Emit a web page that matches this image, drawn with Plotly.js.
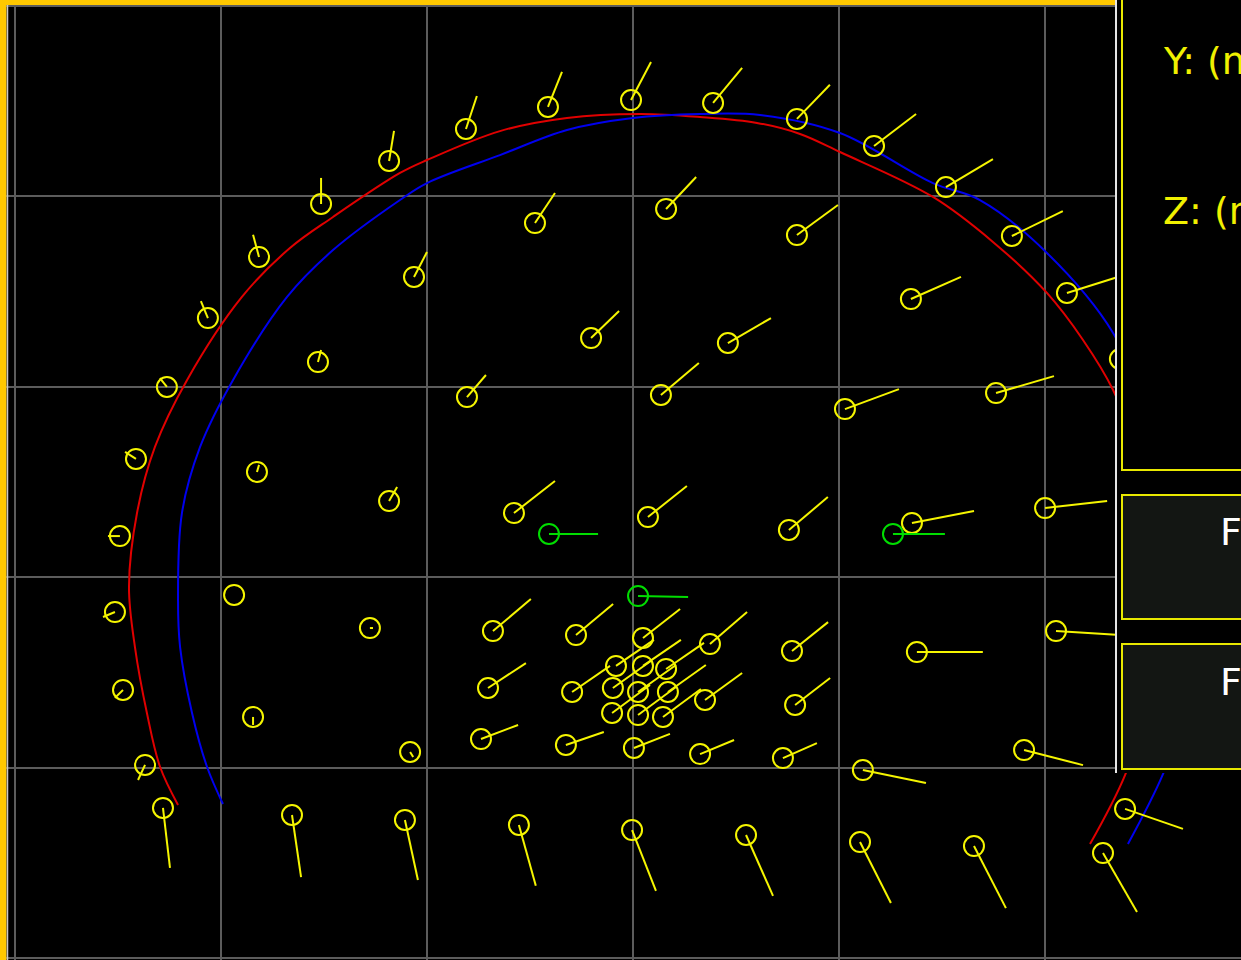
<!DOCTYPE html>
<html>
<head>
<meta charset="utf-8">
<script src="https://cdn.plot.ly/plotly-3.0.1.min.js"></script>
<style>html,body{margin:0;padding:0;background:#000;overflow:hidden}#chart{width:1241px;height:960px}</style>
</head>
<body>
<div id="chart"></div>
<script>
// Observation points (grid units) and their vectors (grid units)
const obsX = [0.719,0.632,0.525,0.486,0.510,0.588,0.738,0.937,1.185,1.486,1.816,2.189,2.587,2.990,3.388,3.795,4.169,4.518,4.838,5.105,5.362,5.387,5.280,
  1.345,1.893,2.446,2.995,3.548,4.101,4.654,
  2.524,3.160,3.795,4.348,1.937,2.796,3.460,4.028,4.761,1.471,2.194,3.135,1.175,1.816,2.422,3.072,3.756,4.353,4.999,
  1.064,1.723,2.320,2.723,3.048,3.373,3.771,4.377,5.052,1.156,1.918,2.296,2.704,3.349,3.786,2.262,2.674,3.004,3.325,3.727,4.115,4.897,
  2.917,3.048,3.160,2.902,3.024,3.169,2.898,3.024,3.145];
const obsY = [0.788,1.014,1.408,1.817,2.216,2.621,2.999,3.361,3.682,3.960,4.186,4.354,4.470,4.506,4.491,4.407,4.265,4.049,3.792,3.493,3.146,0.783,0.551,
  0.751,0.725,0.699,0.672,0.646,0.609,0.588,
  3.860,3.934,3.797,3.461,3.577,3.256,3.230,2.883,2.967,3.130,2.946,2.957,2.553,2.400,2.337,2.316,2.248,2.285,2.363,
  1.907,1.733,1.717,1.696,1.681,1.649,1.612,1.607,1.717,1.266,1.082,1.418,1.397,1.355,1.329,1.150,1.119,1.103,1.071,1.050,0.987,1.092,
  1.534,1.534,1.518,1.418,1.397,1.397,1.287,1.276,1.266];
const obsU = [0.034,-0.034,-0.039,-0.058,-0.058,-0.053,-0.034,-0.034,-0.029,0,0.024,0.053,0.068,0.097,0.141,0.160,0.204,0.228,0.247,0.247,0.267,0.281,0.165,
  0.044,0.063,0.082,0.116,0.131,0.150,0.155,
  0.097,0.146,0.199,0.243,0.063,0.136,0.209,0.262,0.281,0.015,0.092,0.184,0.010,0.039,0.199,0.189,0.189,0.301,0.301,
  0,0.015,0.184,0.180,0.180,0.180,0.175,0.320,0.311,0,0.015,0.184,0.184,0.180,0.170,0.180,0.184,0.175,0.165,0.165,0.306,0.286,
  0.184,0.184,0.184,0.184,0.184,0.184,0.184,0.184,0.184];
const obsV = [-0.315,-0.079,-0.042,-0.026,0,0.037,0.047,0.089,0.116,0.137,0.158,0.173,0.184,0.200,0.184,0.179,0.168,0.147,0.131,0.084,0.074,-0.105,-0.310,
  -0.326,-0.315,-0.320,-0.320,-0.320,-0.320,-0.326,
  0.158,0.168,0.158,0.116,0.131,0.142,0.131,0.105,0.089,0.063,0.116,0.168,0.037,0.074,0.168,0.163,0.173,0.063,0.037,
  0,0,0.168,0.163,0.152,0.168,0.152,0,-0.021,-0.042,-0.026,0.131,0.137,0.142,0.142,0.074,0.068,0.074,0.074,0.079,-0.068,-0.079,
  0.137,0.137,0.137,0.142,0.142,0.142,0.147,0.147,0.147];

// Reference (green) points
const refX = [2.592,3.024,4.261];
const refY = [2.227,1.901,2.227];
const refU = [0.238,0.243,0.252];
const refV = [0,-0.005,0];

// Arcs
const redArcX = [0.792,0.705,0.641,0.583,0.554,0.593,0.680,0.836,1.102,1.335,1.544,1.869,2.000,2.354,2.679,3.033,3.325,3.601,3.810,4.004,4.455,4.746,5.008,5.183,5.329,5.459,5.532,5.556,5.518,5.387,5.217];
const redArcY = [0.804,1.003,1.287,1.633,1.949,2.337,2.684,3.036,3.472,3.729,3.892,4.123,4.191,4.343,4.412,4.433,4.417,4.386,4.328,4.233,3.997,3.761,3.493,3.246,2.983,2.616,2.195,1.828,1.408,0.961,0.599];
const blueArcX = [1.010,0.933,0.860,0.802,0.792,0.811,0.899,1.059,1.321,1.544,1.869,2.000,2.354,2.679,2.999,3.325,3.616,4.004,4.455,4.683,5.008,5.329,5.508,5.654,5.726,5.678,5.571,5.401];
const blueArcY = [0.809,1.003,1.287,1.633,1.880,2.337,2.684,3.036,3.472,3.718,3.981,4.070,4.217,4.349,4.412,4.433,4.428,4.333,4.070,3.981,3.703,3.283,2.826,2.300,1.775,1.303,0.966,0.599];

const panelLabels = ["Y: (m)", "Z: (m)"];
const buttonLabels = ["F", "F"];

function segs(xs, ys, us, vs) {
  const sx = [], sy = [];
  for (let i = 0; i < xs.length; i++) {
    sx.push(xs[i], xs[i] + us[i], null);
    sy.push(ys[i], ys[i] + vs[i], null);
  }
  return {sx, sy};
}
const yS = segs(obsX, obsY, obsU, obsV);
const gS = segs(refX, refY, refU, refV);
const YEL = '#f5f500', GRN = '#00dd00';

const traces = [
  {x: redArcX, y: redArcY, mode: 'lines', line: {color: '#e00000', width: 2, shape: 'spline', smoothing: 1}, hoverinfo: 'skip'},
  {x: blueArcX, y: blueArcY, mode: 'lines', line: {color: '#0000ee', width: 2, shape: 'spline', smoothing: 1}, hoverinfo: 'skip'},
  {x: yS.sx, y: yS.sy, mode: 'lines', line: {color: YEL, width: 2}, hoverinfo: 'skip'},
  {x: obsX, y: obsY, mode: 'markers', marker: {symbol: 'circle-open', size: 20, color: YEL, line: {width: 2, color: YEL}}, hoverinfo: 'skip'},
  {x: gS.sx, y: gS.sy, mode: 'lines', line: {color: GRN, width: 2}, hoverinfo: 'skip'},
  {x: refX, y: refY, mode: 'markers', marker: {symbol: 'circle-open', size: 20, color: GRN, line: {width: 2, color: GRN}}, hoverinfo: 'skip'}
];

const W = 1241, H = 960;
const px = v => v / W, py = v => 1 - v / H;
const ORANGE = '#ffc800';
const shapes = [
  {type: 'rect', xref: 'paper', yref: 'paper', x0: px(1116), x1: 1.02, y0: py(773), y1: 1.02, fillcolor: '#000', line: {width: 0}, layer: 'above'},
  {type: 'rect', xref: 'paper', yref: 'paper', x0: px(1122), x1: 1.05, y0: py(470), y1: 1.05, fillcolor: '#000', line: {color: '#e8e800', width: 2}, layer: 'above'},
  {type: 'rect', xref: 'paper', yref: 'paper', x0: px(1122), x1: 1.05, y0: py(619), y1: py(495), fillcolor: '#131613', line: {color: '#e8e800', width: 2}, layer: 'above'},
  {type: 'rect', xref: 'paper', yref: 'paper', x0: px(1122), x1: 1.05, y0: py(769), y1: py(644), fillcolor: '#131613', line: {color: '#e8e800', width: 2}, layer: 'above'},
  {type: 'line', xref: 'paper', yref: 'paper', x0: px(1116), x1: px(1116), y0: py(773), y1: 1.02, line: {color: '#e6e6e6', width: 2}, layer: 'above'},
  {type: 'rect', xref: 'paper', yref: 'paper', x0: -0.01, x1: px(1115), y0: py(5), y1: 1.02, fillcolor: ORANGE, line: {width: 0}, layer: 'above'},
  {type: 'rect', xref: 'paper', yref: 'paper', x0: -0.01, x1: px(6.5), y0: -0.01, y1: 1.02, fillcolor: ORANGE, line: {width: 0}, layer: 'above'},
  {type: 'line', xref: 'paper', yref: 'paper', x0: px(7.5), x1: px(7.5), y0: -0.01, y1: py(5), line: {color: '#c8c8c8', width: 1.5}, layer: 'above'}
];
const annotations = [
  {text: panelLabels[0], xref: 'paper', yref: 'paper', x: px(1161), y: py(61), xanchor: 'left', yanchor: 'middle', showarrow: false, font: {family: 'DejaVu Sans', size: 38, color: '#f0f000'}},
  {text: panelLabels[1], xref: 'paper', yref: 'paper', x: px(1161), y: py(211), xanchor: 'left', yanchor: 'middle', showarrow: false, font: {family: 'DejaVu Sans', size: 38, color: '#f0f000'}},
  {text: buttonLabels[0], xref: 'paper', yref: 'paper', x: px(1218), y: py(532), xanchor: 'left', yanchor: 'middle', showarrow: false, font: {family: 'DejaVu Sans', size: 38, color: '#ffffff'}},
  {text: buttonLabels[1], xref: 'paper', yref: 'paper', x: px(1218), y: py(682), xanchor: 'left', yanchor: 'middle', showarrow: false, font: {family: 'DejaVu Sans', size: 38, color: '#ffffff'}}
];

const axisBase = {showgrid: true, gridcolor: '#5c5c5c', gridwidth: 2, zeroline: false, showticklabels: false, ticks: '', showline: false, tick0: 0, dtick: 1, fixedrange: true};
const layout = {
  width: W, height: H,
  margin: {l: 0, r: 0, t: 0, b: 0, pad: 0},
  paper_bgcolor: '#000', plot_bgcolor: '#000',
  showlegend: false,
  xaxis: Object.assign({}, axisBase, {range: [-0.0718, 5.9496]}),
  yaxis: Object.assign({}, axisBase, {range: [-0.0105, 5.0315]}),
  shapes: shapes,
  annotations: annotations
};
Plotly.newPlot('chart', traces, layout, {displayModeBar: false, staticPlot: true});
</script>
</body>
</html>
